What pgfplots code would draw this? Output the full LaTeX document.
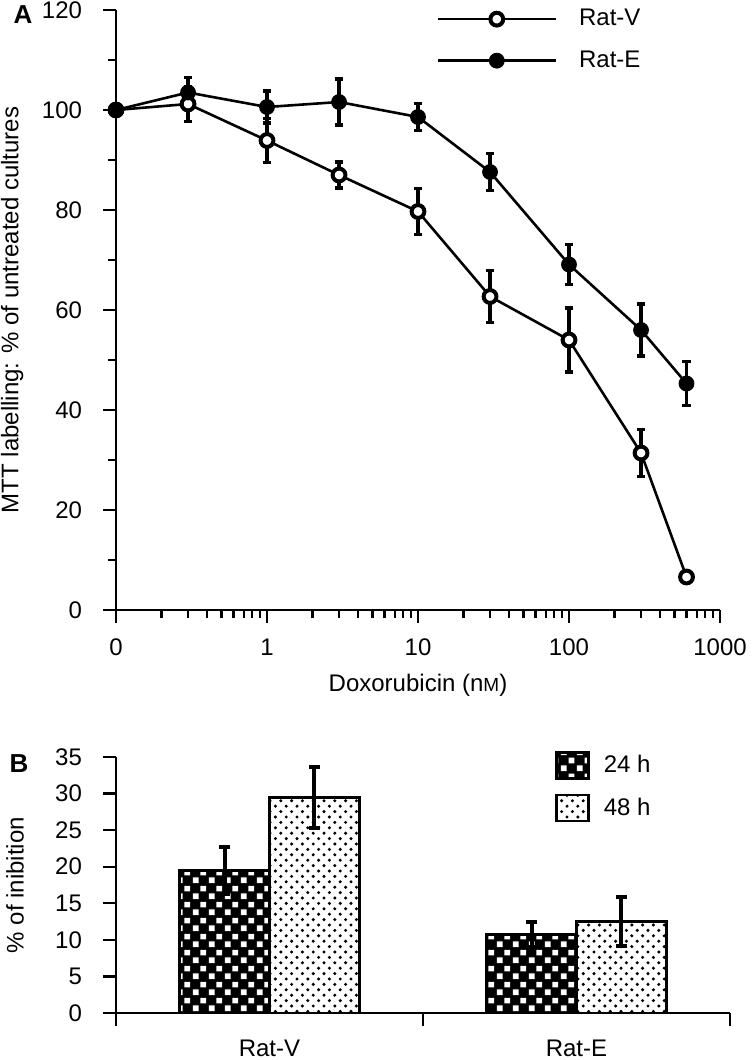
\documentclass[border=0pt]{standalone}
\usepackage{fontspec}
\setmainfont{Liberation Sans}
\usepackage{pgfplots}
\pgfplotsset{compat=1.18}
\usetikzlibrary{patterns.meta}

\tikzdeclarepattern{
  name=whitesq,
  type=uncolored,
  bottom left={(0pt,0pt)},
  top right={(8pt,8pt)},
  tile size={(8pt,8pt)},
  code={
    \fill (0.5pt,0.5pt) rectangle (3.5pt,3.5pt);
    \fill (4.5pt,4.5pt) rectangle (7.5pt,7.5pt);
  }
}
\tikzdeclarepattern{
  name=dotsq,
  type=uncolored,
  bottom left={(-1pt,-1pt)},
  top right={(4pt,4pt)},
  tile size={(5.4pt,5.4pt)},
  code={
    \fill (0pt,0pt) circle (0.85pt);
    \fill (2.7pt,2.7pt) circle (0.85pt);
  }
}

\begin{document}
\begin{tikzpicture}[font=\fontsize{12}{14.4}\selectfont]
\useasboundingbox (0pt,0pt) rectangle (375.5pt,-530pt);

% ---------------- Panel A ----------------
\begin{axis}[
  at={(58pt,-305pt)}, anchor=south west,
  width=302pt, height=300pt, scale only axis,
  xmode=log, xmin=0.1, xmax=1000, ymin=0, ymax=120,
  axis lines*=left, tick align=outside,
  axis line style={line width=1.1pt},
  every tick/.style={black, line width=1.1pt},
  major tick length=6.5pt, minor tick length=4pt,
  xtick={0.1,1,10,100,1000}, xticklabels={0,1,10,100,1000},
  ytick={0,20,...,120}, minor ytick={10,30,...,110},
  tick label style={font=\fontsize{12}{14.4}\selectfont},
  yticklabel style={xshift=-7pt},
  xticklabel style={yshift=-4.5pt},
  /pgf/number format/assume math mode=true,
  xlabel={Doxorubicin (n{\fontsize{9.5}{11}\selectfont M})},
  xlabel style={at={(axis description cs:0.5,-0.125)}, anchor=center},
  ylabel={MTT labelling: \% of untreated cultures},
  ylabel style={at={(axis description cs:-0.172,0.5)}, anchor=center},
  clip=false,
  legend style={at={(axis description cs:0.52,1.015)}, anchor=north west,
    draw=none, fill=none, row sep=7pt, font=\fontsize{12}{14.4}\selectfont},
  legend cell align=left,
  legend image code/.code={\draw[mark repeat=2,mark phase=2,#1] plot coordinates {(0pt,0pt) (29.5pt,0pt) (59pt,0pt)};},
]
\addplot[black, line width=1.3pt, mark=*, mark size=3.2pt,
  mark options={fill=white, draw=black, line width=2pt, solid},
  error bars/.cd, y dir=both, y explicit,
  error bar style={line width=1.6pt},
  error mark options={rotate=90, mark size=2.2pt, line width=1.6pt}]
coordinates {
(0.1,100) +- (0,0)
(0.3,101.2) +- (0,3.5)
(1,93.9) +- (0,4.4)
(3,87) +- (0,2.6)
(10,79.7) +- (0,4.6)
(30,62.7) +- (0,5.2)
(100,54) +- (0,6.4)
(300,31.4) +- (0,4.7)
(600,6.6) +- (0,0.8)
};
\addlegendentry{\hspace{9pt}Rat-V}
\addplot[black, line width=1.3pt, mark=*, mark size=3.3pt,
  mark options={fill=black, draw=black, solid},
  error bars/.cd, y dir=both, y explicit,
  error bar style={line width=1.6pt},
  error mark options={rotate=90, mark size=2.2pt, line width=1.6pt}]
coordinates {
(0.1,100) +- (0,0)
(0.3,103.5) +- (0,3)
(1,100.6) +- (0,3.2)
(3,101.6) +- (0,4.6)
(10,98.6) +- (0,2.7)
(30,87.6) +- (0,3.7)
(100,69.1) +- (0,4)
(300,56) +- (0,5.2)
(600,45.3) +- (0,4.4)
};
\addlegendentry{\hspace{9pt}Rat-E}
\end{axis}

% ---------------- Panel B ----------------
\begin{axis}[
  at={(58pt,-506.5pt)}, anchor=south west,
  width=307pt, height=128pt, scale only axis,
  xmin=0, xmax=2, ymin=0, ymax=35,
  axis lines*=left, tick align=outside,
  axis line style={line width=1.1pt},
  every tick/.style={black, line width=1.1pt},
  major tick length=6.5pt,
  xtick={0,1,2}, x tick label as interval, xticklabels={Rat-V,Rat-E},
  ytick={0,5,...,35},
  tick label style={font=\fontsize{12}{14.4}\selectfont},
  yticklabel style={xshift=-7pt},
  xticklabel style={yshift=-3.5pt},
  /pgf/number format/assume math mode=true,
  ylabel={\% of inibition},
  ylabel style={at={(axis description cs:-0.1645,0.5)}, anchor=center},
  ybar=0pt, bar width=0.293,
  clip=false,
  legend style={at={(axis description cs:0.705,1.04)}, anchor=north west,
    draw=none, fill=none, row sep=7pt, font=\fontsize{12}{14.4}\selectfont},
  legend cell align=left,
  legend image code/.code={\draw[#1] (0pt,-6.5pt) rectangle (16pt,6.5pt);},
]
\addplot[draw=black, line width=1.3pt, preaction={fill=black}, pattern=whitesq, pattern color=white,
  error bars/.cd, y dir=both, y explicit,
  error bar style={line width=2pt, black},
  error mark options={rotate=90, mark size=2.6pt, line width=2pt, black}]
coordinates {(0.5,19.5) +- (0,3.2) (1.5,10.7) +- (0,1.7)};
\addlegendentry{\hspace{5pt}24 h}
\addplot[draw=black, line width=1.3pt, fill=white, postaction={pattern=dotsq, pattern color=black},
  error bars/.cd, y dir=both, y explicit,
  error bar style={line width=2pt, black},
  error mark options={rotate=90, mark size=2.6pt, line width=2pt, black}]
coordinates {(0.5,29.5) +- (0,4.2) (1.5,12.5) +- (0,3.4)};
\addlegendentry{\hspace{5pt}48 h}
\end{axis}

\node[font=\bfseries\fontsize{13}{15}\selectfont] at (11.5pt,-7.5pt) {A};
\node[font=\bfseries\fontsize{13}{15}\selectfont] at (9.5pt,-382pt) {B};
\end{tikzpicture}
\end{document}
